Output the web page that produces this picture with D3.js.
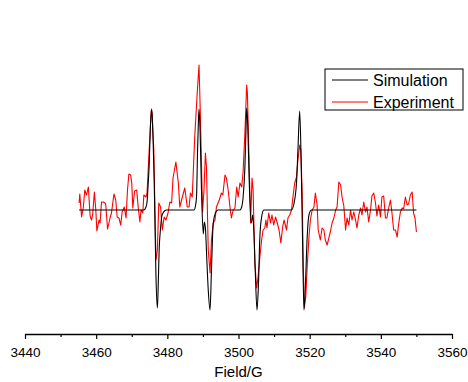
<!DOCTYPE html>
<html>
<head>
<meta charset="utf-8">
<script src="https://cdn.jsdelivr.net/npm/d3@7"></script>
<style>
  body { margin: 0; background: #fff; }
  svg { display: block; font-family: "Liberation Sans", Arial, sans-serif; }
</style>
</head>
<body>
<svg class="epr" width="468" height="382"></svg>
<script>
// field values (G) and intensities (arb. units)
const simField = [3455.2, 3473.4, 3474.0, 3474.3, 3474.6, 3474.9, 3475.2, 3475.6, 3475.8, 3476.0, 3476.3, 3476.5, 3476.8, 3477.2, 3477.4, 3477.7, 3478.1, 3478.4, 3478.8, 3479.2, 3479.8,
    3487.5, 3487.9, 3488.2, 3488.5, 3488.7, 3488.9, 3489.2, 3489.6, 3490.1, 3490.4, 3490.7, 3491.1, 3491.5, 3492.0, 3492.4, 3492.9, 3493.5, 3494.2,
    3500.4, 3500.9, 3501.3, 3501.8, 3502.1, 3502.3, 3502.6, 3503.0, 3503.6, 3504.0, 3504.3, 3504.7, 3505.2, 3505.6, 3506.0, 3506.5, 3507.1,
    3514.9, 3515.5, 3516.3, 3516.7, 3517.2, 3517.6, 3518.0, 3518.4, 3518.8, 3519.3, 3519.8, 3520.5, 3550.0];
const simValue = [0, 0, 3, 8, 25, 45, 80, 101, 90, 70, 30, -8, -65, -98, -80, -40, -18, -7, -3, -1, 0,
    0, 4, 13, 60, 85, 101, 80, 20, -24, -12, -18, -50, -80, -100, -60, -13, -3, 0,
    0, 3, 13, 43, 80, 102, 85, 30, -13, -5, -20, -60, -100, -75, -27, -7, 0,
    0, 5, 27, 60, 99, 50, -30, -100, -75, -27, -5, 0, 0];

const expField = [3455.2, 3455.4, 3455.9, 3456.4, 3456.8, 3457.3, 3457.8, 3458.3, 3458.7, 3459.0, 3459.5, 3459.9, 3460.2, 3460.8, 3461.1, 3461.5, 3462.0, 3462.5, 3462.7, 3463.2,
    3463.9, 3464.3, 3465.0, 3465.5, 3465.9, 3466.4, 3466.9, 3467.3, 3467.9, 3468.4, 3468.8, 3469.2, 3469.7, 3470.0, 3470.3, 3470.8, 3471.4, 3471.8, 3472.3, 3472.6,
    3473.1, 3473.4, 3474.0, 3474.3, 3474.9, 3475.5, 3475.7, 3476.2, 3476.8, 3477.2, 3477.6, 3478.1, 3478.6, 3479.1, 3479.6, 3480.2, 3480.7, 3481.2, 3481.6, 3482.4,
    3483.1, 3483.5, 3484.0, 3484.9, 3485.6, 3486.1, 3486.5, 3487.0, 3487.7, 3488.4, 3488.9, 3489.3, 3489.9, 3490.3, 3490.7, 3491.0, 3491.5, 3492.0, 3492.4, 3492.9,
    3493.4, 3493.8, 3494.6, 3495.2, 3495.6, 3496.2, 3496.6, 3497.1, 3497.6, 3498.0, 3498.5, 3499.0, 3499.5, 3499.9, 3500.4, 3500.9, 3501.3, 3501.8, 3502.3, 3502.5,
    3502.9, 3503.4, 3503.8, 3504.1, 3504.6, 3505.1, 3505.5, 3506.0, 3506.5, 3506.9, 3507.4, 3507.7, 3508.0, 3508.5, 3509.0, 3509.4, 3509.9, 3510.4, 3510.9, 3511.4,
    3511.9, 3512.4, 3512.8, 3513.5, 3513.9, 3514.4, 3514.9, 3515.3, 3515.8, 3516.3, 3516.7, 3517.2, 3517.5, 3517.9, 3518.2, 3518.5, 3518.9, 3519.3, 3519.8, 3520.2,
    3520.7, 3521.2, 3521.6, 3522.1, 3522.4, 3523.0, 3523.5, 3524.0, 3524.4, 3524.9, 3525.4, 3525.8, 3526.3, 3526.8, 3527.3, 3527.7, 3528.2, 3528.7, 3529.1, 3529.6,
    3530.1, 3530.5, 3531.0, 3531.5, 3531.9, 3532.4, 3532.9, 3533.3, 3533.8, 3534.3, 3534.7, 3535.2, 3535.7, 3536.1, 3536.6, 3537.1, 3537.5, 3538.0, 3538.5, 3538.9,
    3539.4, 3539.9, 3540.3, 3540.8, 3541.3, 3541.7, 3542.2, 3542.7, 3543.1, 3543.6, 3544.1, 3544.6, 3545.0, 3545.5, 3546.0, 3546.4, 3546.9, 3547.4, 3547.8, 3548.3,
    3548.8, 3549.2, 3549.6, 3550.0];
const expValue = [7, 16, -7, 3, 20, 15, 23, -6, -10, -5, 18, 0, -21, -10, -13, 8, 8, 7, 5, -19,
    -8, -3, 16, 10, -7, -8, -15, -2, 3, -8, 20, 36, 35, 27, 2, 19, 20, 3, -12, 0,
    -3, 15, 13, 17, 60, 100, 97, 60, -50, -40, 7, 3, -20, -7, -10, -3, 8, 7, 32, 48,
    27, 3, 10, 22, 3, 3, 17, 13, 73, 117, 145, 93, -2, 20, 57, 43, -40, -63, -30, -13,
    -10, 3, 10, 17, 15, 35, 32, 20, 3, -8, 0, 2, 23, 13, 27, 23, 39, 77, 125, 117,
    60, -13, 32, 20, -53, -78, -67, -47, -30, -20, -18, -10, -18, -3, -13, -5, -15, -7, -13, -20,
    -33, -17, -10, -20, -8, -5, 0, 13, 27, 33, 50, 65, 60, 17, -57, -98, -87, -57, -27, -10,
    0, 3, 17, 5, -20, -30, -18, -20, -30, -35, -28, -22, -13, -8, 0, 3, 28, 25, 13, 4,
    -20, -8, -15, 0, -10, -2, -10, -18, -5, 2, -5, 8, -2, 3, -12, 0, 14, 17, 7, -6,
    5, -7, 13, 14, -8, -8, 2, 10, -2, -20, -20, -27, -14, -2, 2, 1, 13, 5, 6, 15,
    18, -3, -8, -22];

const xTicks = [3440, 3460, 3480, 3500, 3520, 3540, 3560];
const xMinor = [3450, 3470, 3490, 3510, 3530, 3550];
const seriesNames = ['Simulation', 'Experiment'];
const seriesColors = ['#000000', '#ff0000'];

const svg = d3.select('.epr');

const xScale = d3.scaleLinear()
    .domain([3440, 3560])
    .range([25, 452]);
const yScale = d3.scaleLinear()
    .domain([-124, 210])
    .range([334, 0]);

// minor ticks first, then the main axis on top
svg.append('g')
    .attr('transform', 'translate(0,334)')
    .call(d3.axisBottom(xScale).tickValues(xMinor).tickSize(3).tickSizeOuter(0).tickFormat(''))
    .call(g => g.select('.domain').remove())
    .call(g => g.selectAll('line').attr('stroke-width', 1.2));

const xAxis = svg.append('g')
    .classed('x-axis', true)
    .attr('transform', 'translate(0,334)')
    .call(d3.axisBottom(xScale).tickValues(xTicks).tickSize(5).tickSizeOuter(0).tickPadding(8).tickFormat(d3.format('d')));
xAxis.select('.domain').attr('stroke-width', 1.3);
xAxis.selectAll('line').attr('stroke-width', 1.2);
xAxis.selectAll('text')
    .style('font-family', '"Liberation Sans", Arial, sans-serif')
    .style('font-size', '13.5px')
    .attr('fill', '#000');

svg.append('text')
    .attr('x', xScale(3500))
    .attr('y', 377)
    .attr('text-anchor', 'middle')
    .style('font-size', '15px')
    .text('Field/G');

const line = d3.line()
    .x(d => xScale(d[0]))
    .y(d => yScale(d[1]));

const expData = expField.map((f, i) => [f, expValue[i]]);
const simData = simField.map((f, i) => [f, simValue[i]]);

svg.append('path')
    .datum(expData)
    .attr('d', line)
    .style('fill', 'none')
    .style('stroke', seriesColors[1])
    .style('stroke-width', 1.1)
    .style('stroke-linejoin', 'round');

svg.append('path')
    .datum(simData)
    .attr('d', line.curve(d3.curveMonotoneX))
    .style('fill', 'none')
    .style('stroke', seriesColors[0])
    .style('stroke-width', 1.1);

// legend
const legend = svg.append('g');
legend.append('rect')
    .attr('x', 325).attr('y', 69)
    .attr('width', 138).attr('height', 41)
    .style('fill', '#fff')
    .style('stroke', '#000')
    .style('stroke-width', 1);

seriesNames.forEach((name, i) => {
    const y = 80 + i * 22;
    legend.append('line')
        .attr('x1', 332).attr('x2', 368)
        .attr('y1', y).attr('y2', y)
        .style('stroke', seriesColors[i])
        .style('stroke-width', 1.1);
    legend.append('text')
        .attr('x', 373).attr('y', y + 6)
        .style('font-size', '16px')
        .text(name);
});
</script>
</body>
</html>
